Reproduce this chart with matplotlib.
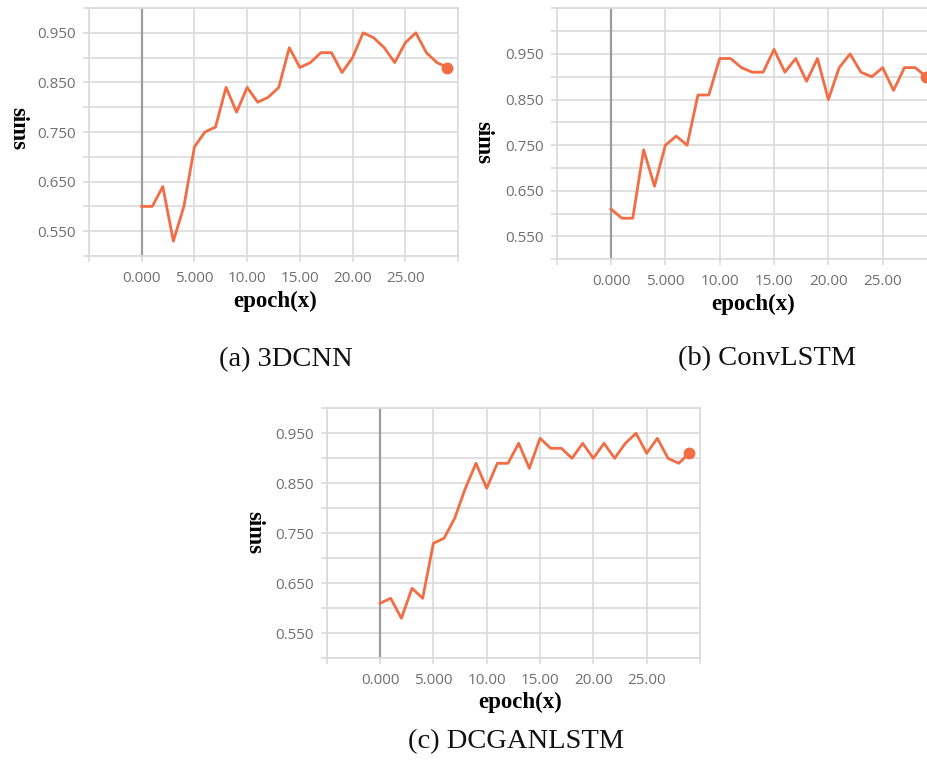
import matplotlib
matplotlib.use("Agg")
import matplotlib.pyplot as plt
import numpy as np

epochs = list(range(30))
sims_3dcnn = [0.60, 0.60, 0.64, 0.53, 0.60, 0.72, 0.75, 0.76, 0.84, 0.79,
              0.84, 0.81, 0.82, 0.84, 0.92, 0.88, 0.89, 0.91, 0.91, 0.87,
              0.90, 0.95, 0.94, 0.92, 0.89, 0.93, 0.95, 0.91, 0.89, 0.88]
sims_convlstm = [0.61, 0.59, 0.59, 0.74, 0.66, 0.75, 0.77, 0.75, 0.86, 0.86,
                 0.94, 0.94, 0.92, 0.91, 0.91, 0.96, 0.91, 0.94, 0.89, 0.94,
                 0.85, 0.92, 0.95, 0.91, 0.90, 0.92, 0.87, 0.92, 0.92, 0.90]
sims_dcganlstm = [0.61, 0.62, 0.58, 0.64, 0.62, 0.73, 0.74, 0.78, 0.84, 0.89,
                  0.84, 0.89, 0.89, 0.93, 0.88, 0.94, 0.92, 0.92, 0.90, 0.93,
                  0.90, 0.93, 0.90, 0.93, 0.95, 0.91, 0.94, 0.90, 0.89, 0.91]

captions = ["(a) 3DCNN", "(b) ConvLSTM", "(c) DCGANLSTM"]
x_ticks = [-5, 0, 5, 10, 15, 20, 25, 30]
x_tick_labels = ["", "0.000", "5.000", "10.00", "15.00", "20.00", "25.00", ""]
y_label_vals = [0.55, 0.65, 0.75, 0.85, 0.95]
y_label_text = ["0.550", "0.650", "0.750", "0.850", "0.950"]

LINE = "#f26c44"
GRID = "#dadada"
ZERO = "#9c9c9c"
TICKC = "#707070"

W, H = 927, 761
fig = plt.figure(figsize=(W / 100, H / 100), dpi=100)

def px_axes(l, t, r, b):
    return fig.add_axes([l / W, 1 - b / H, (r - l) / W, (b - t) / H])

panels = [
    dict(rect=(89, 8, 458, 256), y=sims_3dcnn, ytop=1.0,
         ylab=(-0.192, 0.516), xlab=(0.504, -0.185)),
    dict(rect=(556.7, 8.3, 937, 259.3), y=sims_convlstm, ytop=1.05,
         ylab=(-0.194, 0.467), xlab=(0.516, -0.178)),
    dict(rect=(326.7, 408.3, 700, 658.3), y=sims_dcganlstm, ytop=1.0,
         ylab=(-0.195, 0.505), xlab=(0.518, -0.175)),
]

for p in panels:
    ax = px_axes(*p["rect"])
    ax.set_xlim(-5, 30)
    ax.set_ylim(0.5, p["ytop"])
    grid_y = np.round(np.arange(0.5, p["ytop"] + 0.001, 0.05), 2)
    ylabels = []
    for g in grid_y:
        match = [t for v, t in zip(y_label_vals, y_label_text) if abs(v - g) < 1e-6]
        ylabels.append(match[0] if match else "")
    ax.set_yticks(grid_y)
    ax.set_yticklabels(ylabels)
    ax.set_xticks(x_ticks)
    ax.set_xticklabels(x_tick_labels)
    ax.grid(True, color=GRID, linewidth=1.2)
    ax.set_axisbelow(True)
    for s in ax.spines.values():
        s.set_color(GRID)
        s.set_linewidth(1.2)
    ax.tick_params(axis="both", direction="out", length=4.5, width=1.2,
                   color=GRID, labelcolor=TICKC, labelsize=11)
    ax.tick_params(axis="x", pad=6)
    ax.tick_params(axis="y", pad=5)
    for lab in ax.get_xticklabels() + ax.get_yticklabels():
        lab.set_fontfamily("Open Sans")
    ax.axvline(0, color=ZERO, linewidth=1.6, zorder=1.5)
    ax.plot(epochs, p["y"], color=LINE, linewidth=2.0, zorder=3)
    ax.plot(epochs[-1], p["y"][-1], "o", color=LINE, markersize=7.5, zorder=4,
            clip_on=False)
    ax.set_ylabel("sims", fontfamily="Liberation Serif", fontweight="bold",
                  fontsize=16.5, va="center", ha="center", rotation=270)
    ax.yaxis.set_label_coords(*p["ylab"])
    ax.set_xlabel("epoch(x)", fontfamily="Liberation Serif", fontweight="bold",
                  fontsize=16.5, va="center")
    ax.xaxis.set_label_coords(*p["xlab"])

cap_pos = [(285.5, 360), (767, 359), (516, 742)]
for txt, (cx, cy) in zip(captions, cap_pos):
    fig.text(cx / W, 1 - cy / H, txt, ha="center", va="center",
             fontfamily="Liberation Serif", fontsize=20.5, color="#111111")

fig.savefig("out.png", dpi=100)
